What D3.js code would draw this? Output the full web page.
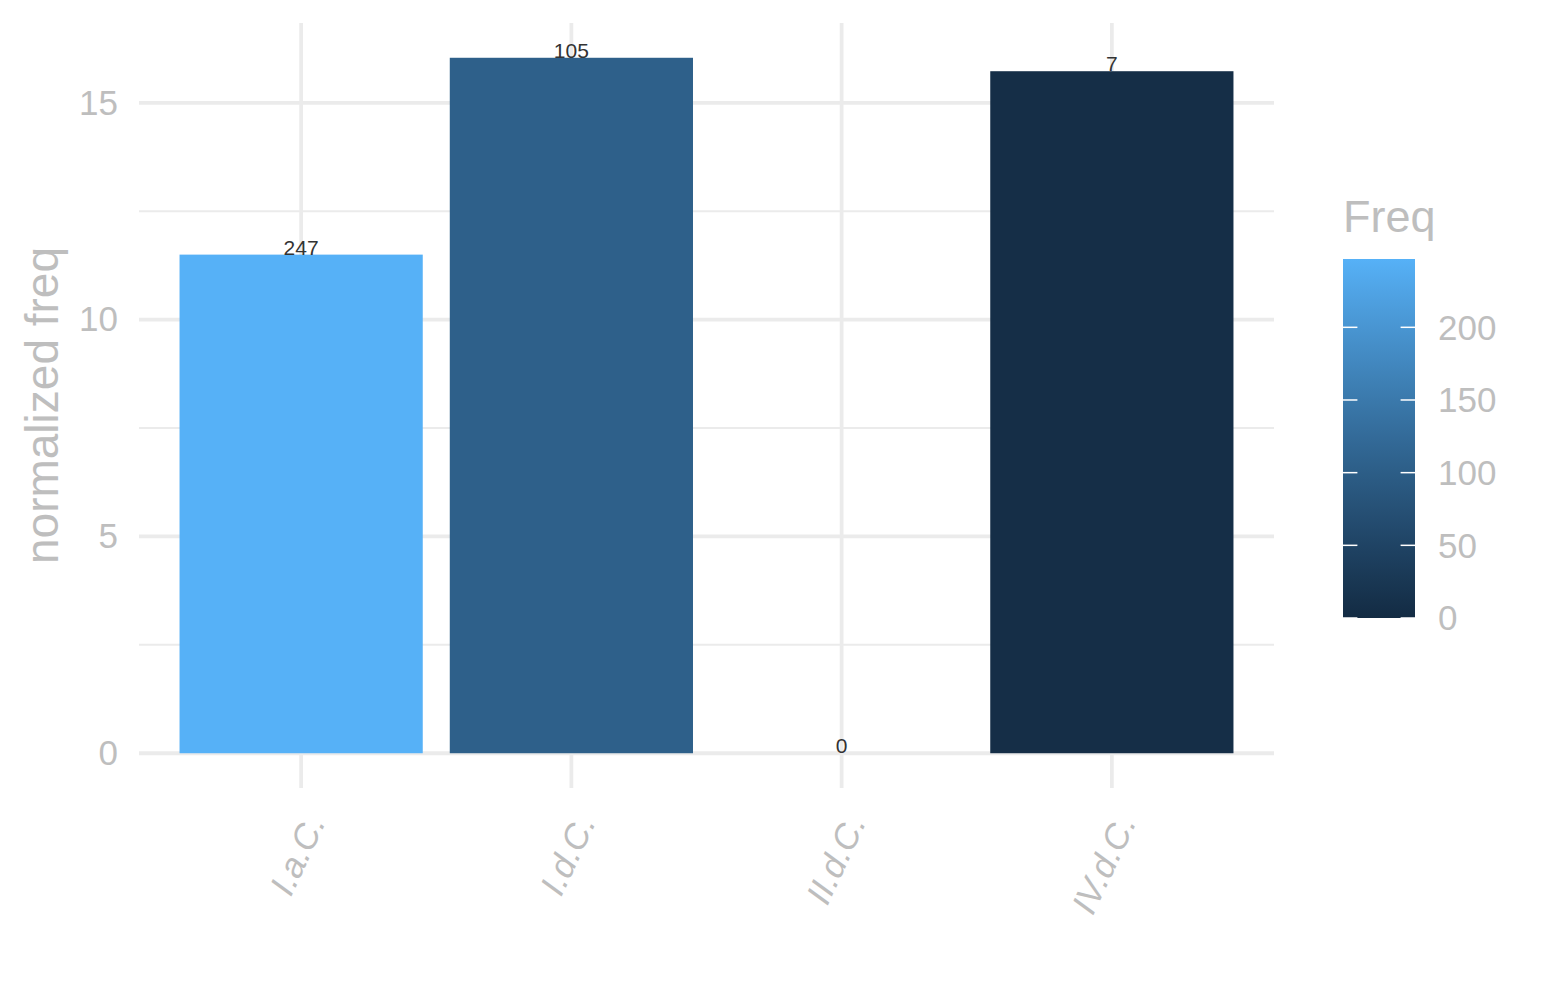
<!DOCTYPE html>
<html>
<head>
<meta charset="utf-8">
<script src="https://cdn.jsdelivr.net/npm/d3@7"></script>
<style>
  html, body { margin: 0; padding: 0; background: #fff; }
  svg { display: block; font-family: "Liberation Sans", Arial, Helvetica, sans-serif; }
</style>
</head>
<body>
<svg id="chart" width="1545" height="1000"></svg>
<script>
// ---- data ----
const categories = ["I.a.C.", "I.d.C.", "II.d.C.", "IV.d.C."];
const normFreq = [11.5, 16.04, 0, 15.73];
const freq = [247, 105, 0, 7];
const yTicks = [0, 5, 10, 15];
const yMinorTicks = [2.5, 7.5, 12.5];
const legendTicks = [0, 50, 100, 150, 200];
const yTitle = "normalized freq";
const legendTitle = "Freq";

const data = categories.map((c, i) => ({ cat: c, y: normFreq[i], f: freq[i] }));

const svg = d3.select("#chart");
const panel = { left: 139, right: 1274, top: 23, bottom: 788 };
const gridColor = "#EBEBEB";
const textGrey = "#BEBEBE";

const x = d3.scaleBand().domain(categories)
  .range([panel.left, panel.right]).paddingInner(0.1).paddingOuter(0.15);

const yMax = d3.max(normFreq);
const pad = yMax * 0.05;
const y = d3.scaleLinear().domain([-pad, yMax + pad]).range([panel.bottom, panel.top]);

const fMax = d3.max(freq);
const color = d3.scaleLinear().domain([0, fMax]).range(["#132B43", "#56B1F7"])
  .interpolate(d3.interpolateLab);

// ---- grid ----
const g = svg.append("g");
g.selectAll("line.minor").data(yMinorTicks).join("line")
  .attr("x1", panel.left).attr("x2", panel.right)
  .attr("y1", d => y(d)).attr("y2", d => y(d))
  .attr("stroke", gridColor).attr("stroke-width", 2);
g.selectAll("line.majorY").data(yTicks).join("line")
  .attr("x1", panel.left).attr("x2", panel.right)
  .attr("y1", d => y(d)).attr("y2", d => y(d))
  .attr("stroke", gridColor).attr("stroke-width", 3.8);
g.selectAll("line.majorX").data(categories).join("line")
  .attr("x1", d => x(d) + x.bandwidth() / 2).attr("x2", d => x(d) + x.bandwidth() / 2)
  .attr("y1", panel.top).attr("y2", panel.bottom)
  .attr("stroke", gridColor).attr("stroke-width", 3.8);

// ---- bars ----
svg.append("g").selectAll("rect").data(data).join("rect")
  .attr("x", d => x(d.cat))
  .attr("width", x.bandwidth())
  .attr("y", d => Math.min(y(d.y), y(0)))
  .attr("height", d => Math.abs(y(0) - y(d.y)))
  .attr("fill", d => color(d.f));

// ---- bar labels ----
svg.append("g").selectAll("text").data(data).join("text")
  .attr("x", d => x(d.cat) + x.bandwidth() / 2)
  .attr("y", d => y(d.y))
  .attr("text-anchor", "middle")
  .attr("font-size", 21)
  .attr("fill", "#333333")
  .text(d => d.f);

// ---- y axis ----
const yAxis = d3.axisLeft(y).tickValues(yTicks).tickSize(0).tickPadding(0);
const ya = svg.append("g").attr("transform", `translate(${panel.left - 21},0)`).call(yAxis);
ya.select(".domain").remove();
ya.selectAll("text").attr("font-size", 35).attr("fill", textGrey)
  .attr("font-family", "'Liberation Sans', Arial, sans-serif");

// ---- x axis ----
const xAxis = d3.axisBottom(x).tickSize(0).tickPadding(0);
const xa = svg.append("g").attr("transform", `translate(0,${panel.bottom})`).call(xAxis);
xa.select(".domain").remove();
xa.selectAll("text")
  .attr("font-size", 35).attr("fill", textGrey).attr("font-style", "italic")
  .attr("font-family", "'Liberation Sans', Arial, sans-serif")
  .attr("text-anchor", "end").attr("dy", null).attr("y", 0)
  .attr("transform", "translate(25,34) rotate(-65)");

// ---- y title ----
svg.append("text")
  .attr("transform", `translate(58,${(panel.top + panel.bottom) / 2}) rotate(-90)`)
  .attr("text-anchor", "middle")
  .attr("font-size", 46).attr("fill", textGrey)
  .text(yTitle);

// ---- legend ----
const lg = { x: 1343, top: 259, w: 72, bottom: 618 };
const ly = d3.scaleLinear().domain([0, fMax]).range([lg.bottom, lg.top]);
const defs = svg.append("defs");
const grad = defs.append("linearGradient").attr("id", "lgrad")
  .attr("x1", 0).attr("y1", 1).attr("x2", 0).attr("y2", 0);
d3.range(0, 11).forEach(i => {
  grad.append("stop").attr("offset", i / 10).attr("stop-color", color(fMax * i / 10));
});
svg.append("text").attr("x", lg.x).attr("y", 232)
  .attr("font-size", 45).attr("fill", textGrey).text(legendTitle);
svg.append("rect").attr("x", lg.x).attr("y", lg.top).attr("width", lg.w)
  .attr("height", lg.bottom - lg.top).attr("fill", "url(#lgrad)");
const lt = svg.append("g");
lt.selectAll("line.l").data(legendTicks).join("line")
  .attr("x1", lg.x).attr("x2", lg.x + 14.4)
  .attr("y1", d => ly(d)).attr("y2", d => ly(d))
  .attr("stroke", "#fff").attr("stroke-width", 1.5);
lt.selectAll("line.r").data(legendTicks).join("line")
  .attr("x1", lg.x + lg.w - 14.4).attr("x2", lg.x + lg.w)
  .attr("y1", d => ly(d)).attr("y2", d => ly(d))
  .attr("stroke", "#fff").attr("stroke-width", 1.5);
lt.selectAll("text").data(legendTicks).join("text")
  .attr("x", 1438).attr("y", d => ly(d))
  .attr("dy", "0.35em")
  .attr("font-size", 35).attr("fill", textGrey)
  .text(d => d);
</script>
</body>
</html>
